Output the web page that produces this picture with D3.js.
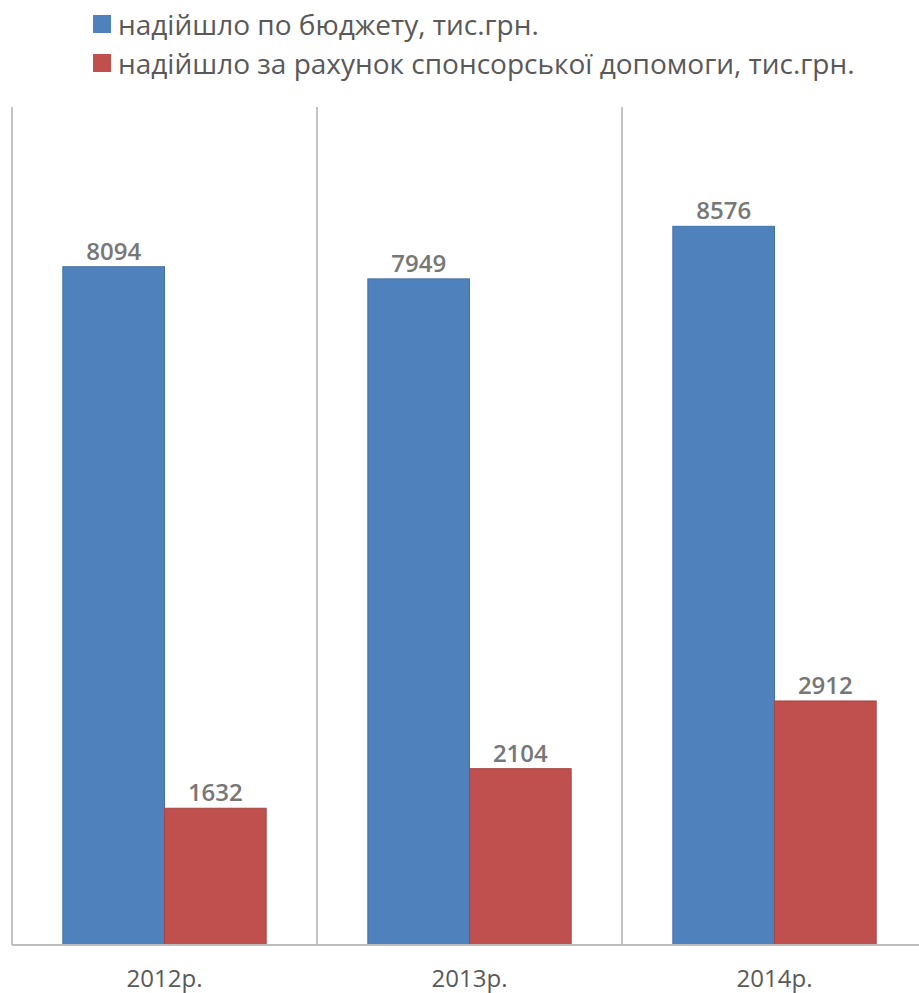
<!DOCTYPE html>
<html>
<head>
<meta charset="utf-8">
<script src="https://cdn.jsdelivr.net/npm/d3@7"></script>
<style>
  body { margin: 0; background: #fff; }
  svg { display: block; font-family: "Open Sans", "Liberation Sans", sans-serif; }
</style>
</head>
<body>
<svg></svg>
<script>
const years = ["2012р.", "2013р.", "2014р."];
const seriesNames = ["надійшло по бюджету, тис.грн.", "надійшло за рахунок спонсорської допомоги, тис.грн."];
const budget = [8094, 7949, 8576];
const sponsor = [1632, 2104, 2912];
const colors = ["#4f81bd", "#c0504d"];

const width = 919, height = 993;
const margin = { top: 107, left: 12, bottom: 945 };

const data = years.map((y, i) => ({ year: y, values: [budget[i], sponsor[i]] }));

const svg = d3.select("svg").attr("width", width).attr("height", height);

const x0 = d3.scaleBand().domain(years).range([margin.left, margin.left + 305 * 3]);
const x1 = d3.scaleBand().domain([0, 1]).range([0, x0.bandwidth()]).paddingOuter(0.5);
const y = d3.scaleLinear().domain([0, 10000]).range([margin.bottom, margin.top]);

// vertical separators between categories
svg.append("g")
  .selectAll("line")
  .data(years.concat(["end"]))
  .join("line")
  .attr("x1", (d, i) => margin.left + i * x0.step())
  .attr("x2", (d, i) => margin.left + i * x0.step())
  .attr("y1", margin.top)
  .attr("y2", margin.bottom)
  .attr("stroke", "#c4c4c4")
  .attr("stroke-width", 2);

const groups = svg.append("g")
  .selectAll("g")
  .data(data)
  .join("g")
  .attr("transform", d => `translate(${x0(d.year)},0)`);

groups.selectAll("rect")
  .data(d => d.values.map((v, k) => ({ k, v })))
  .join("rect")
  .attr("x", d => x1(d.k))
  .attr("width", x1.bandwidth())
  .attr("y", d => y(d.v))
  .attr("height", d => y(0) - y(d.v))
  .attr("fill", d => colors[d.k])
  .attr("stroke", d => d3.color(colors[d.k]).darker(0.4))
  .attr("stroke-width", 1);

groups.selectAll("text")
  .data(d => d.values.map((v, k) => ({ k, v })))
  .join("text")
  .attr("x", d => x1(d.k) + x1.bandwidth() / 2)
  .attr("y", d => y(d.v) - 7)
  .attr("text-anchor", "middle")
  .attr("fill", "#777")
  .style("font-size", "24px")
  .style("font-weight", "600")
  .text(d => d.v);

// bottom axis
const xAxis = svg.append("g")
  .attr("transform", `translate(0,${margin.bottom})`)
  .call(d3.axisBottom(x0).tickSize(0).tickPadding(0));
xAxis.select(".domain").attr("stroke", "#bdbdbd").attr("stroke-width", 2)
  .attr("d", `M${margin.left},0H${width}`);
xAxis.selectAll("text")
  .attr("y", 42)
  .attr("dy", null)
  .attr("fill", "#595959")
  .style("font-size", "24px")
  .style("font-family", "'Open Sans', sans-serif");

// legend
const legend = svg.append("g")
  .selectAll("g")
  .data(seriesNames)
  .join("g")
  .attr("transform", (d, i) => `translate(93,${15 + i * 39})`);

legend.append("rect")
  .attr("width", 18)
  .attr("height", 18)
  .attr("fill", (d, i) => colors[i]);

legend.append("text")
  .attr("x", 25)
  .attr("y", 20)
  .attr("fill", "#595959")
  .style("font-size", "28px")
  .text(d => d);
</script>
</body>
</html>
